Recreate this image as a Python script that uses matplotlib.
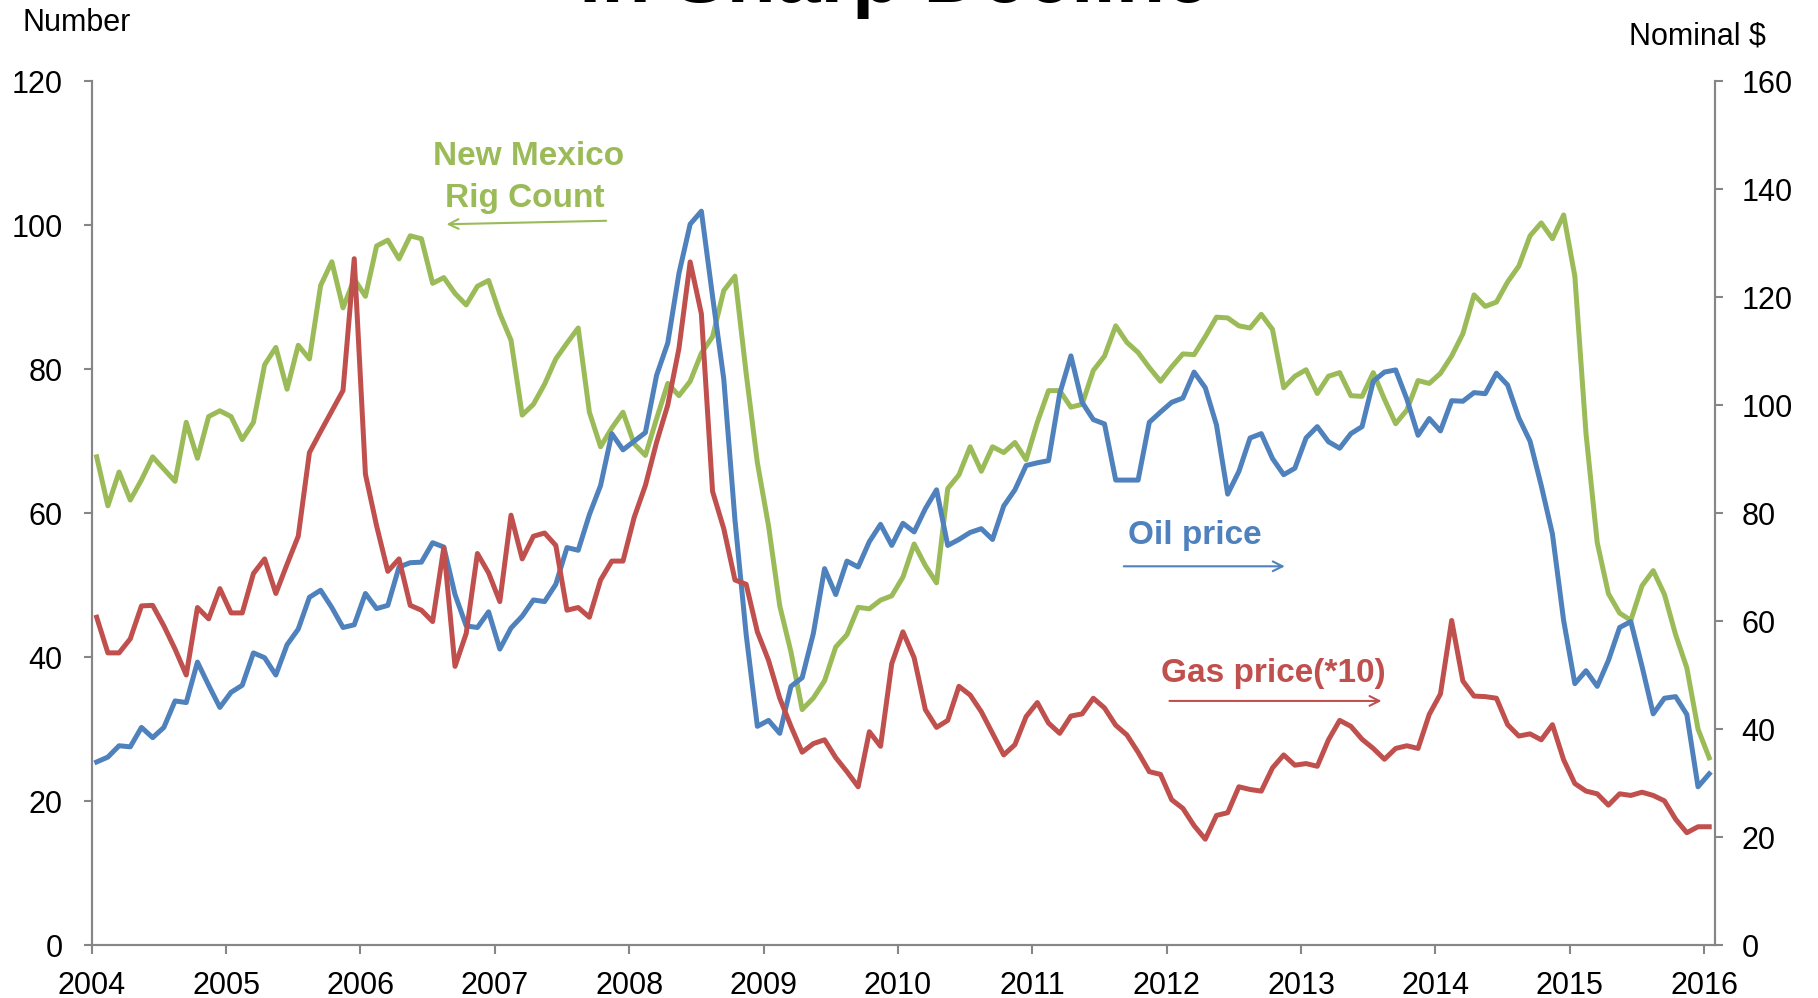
import numpy as np
import matplotlib
matplotlib.use("Agg")
import matplotlib.pyplot as plt

plt.rcParams['font.family'] = ['Liberation Sans', 'DejaVu Sans']

GREEN = '#9BBB59'
BLUE = '#4F81BD'
RED = '#C0504D'
GREY = '#868686'

# monthly, Jan 2004 .. Jan 2016
rig_count = [67.8, 61.0, 65.7, 61.8, 64.6, 67.8, 66.1, 64.4, 72.6, 67.6, 73.4, 74.2,
             73.4, 70.2, 72.6, 80.6, 83.0, 77.2, 83.3, 81.4, 91.6, 94.9, 88.5, 92.5,
             90.1, 97.1, 97.9, 95.3, 98.5, 98.1, 91.9, 92.7, 90.5, 88.9, 91.5, 92.3,
             87.7, 84.0, 73.6, 75.1, 77.9, 81.4, 83.6, 85.7, 74.0, 69.2, 71.8, 74.0,
             69.6, 68.0, 73.1, 78.0, 76.3, 78.3, 82.2, 84.5, 90.9, 92.9, 79.4, 67.0,
             58.2, 47.1, 40.7, 32.7, 34.3, 36.7, 41.4, 43.1, 46.9, 46.7, 47.9, 48.5,
             51.1, 55.7, 52.7, 50.3, 63.4, 65.3, 69.2, 65.8, 69.2, 68.4, 69.8, 67.4,
             72.6, 77.0, 77.0, 74.7, 75.1, 79.8, 81.8, 86.0, 83.7, 82.3, 80.2, 78.3,
             80.3, 82.1, 82.0, 84.5, 87.2, 87.1, 86.0, 85.7, 87.6, 85.5, 77.4, 79.0,
             79.9, 76.6, 79.0, 79.5, 76.3, 76.2, 79.5, 75.8, 72.4, 74.3, 78.4, 78.0,
             79.4, 81.8, 84.9, 90.3, 88.7, 89.3, 92.1, 94.3, 98.5, 100.3, 98.1, 101.4,
             92.9, 71.0, 55.9, 48.8, 46.1, 45.1, 49.9, 52.0, 48.7, 43.1, 38.5, 30.0,
             26.0]

oil_price = [33.9, 34.8, 36.9, 36.7, 40.3, 38.4, 40.3, 45.2, 44.9, 52.4, 48.1, 44.0,
             46.8, 48.1, 54.1, 53.2, 50.0, 55.6, 58.5, 64.4, 65.7, 62.5, 58.8, 59.3,
             65.1, 62.3, 62.9, 70.0, 70.8, 70.9, 74.5, 73.7, 64.9, 59.1, 58.8, 61.7,
             54.8, 58.7, 60.9, 63.9, 63.6, 66.8, 73.6, 73.1, 79.7, 85.1, 94.7, 91.7,
             93.3, 94.9, 105.5, 111.5, 124.4, 133.5, 135.9, 120.1, 104.8, 78.7, 57.5, 40.5,
             41.6, 39.2, 47.9, 49.5, 57.7, 69.7, 64.9, 71.1, 70.0, 74.7, 77.9, 74.0,
             78.1, 76.5, 80.8, 84.3, 74.0, 75.1, 76.4, 77.1, 75.1, 81.3, 84.3, 88.8,
             89.3, 89.7, 102.1, 109.1, 100.5, 97.3, 96.5, 86.1, 86.1, 86.1, 96.8, 98.7,
             100.5, 101.3, 106.1, 103.2, 96.3, 83.5, 87.7, 93.9, 94.7, 90.1, 87.1, 88.3,
             93.9, 96.0, 93.2, 92.0, 94.7, 96.0, 104.4, 106.1, 106.5, 101.1, 94.4, 97.5,
             95.2, 100.8, 100.7, 102.3, 102.1, 105.9, 103.7, 97.6, 93.3, 85.1, 76.1, 60.1,
             48.4, 50.8, 47.9, 52.7, 58.8, 59.9, 51.6, 42.8, 45.7, 46.0, 42.7, 29.3,
             31.7]

gas_price_x10 = [60.7, 54.1, 54.1, 56.7, 62.8, 62.9, 59.1, 54.8, 50.0, 62.5, 60.4, 66.0,
                 61.5, 61.5, 68.8, 71.5, 65.1, 70.5, 75.7, 91.2, 95.1, 98.9, 102.7, 127.1,
                 87.2, 77.6, 69.2, 71.5, 62.9, 62.0, 59.9, 73.6, 51.6, 57.7, 72.5, 68.9,
                 63.6, 79.6, 71.5, 75.7, 76.3, 74.0, 62.0, 62.5, 60.7, 67.6, 71.1, 71.1,
                 79.2, 85.1, 93.1, 100.0, 110.5, 126.5, 116.9, 84.0, 77.1, 67.6, 66.8, 58.0,
                 52.7, 45.7, 40.5, 35.7, 37.3, 38.0, 34.7, 32.1, 29.3, 39.5, 36.8, 52.1,
                 58.0, 53.2, 43.6, 40.3, 41.6, 47.9, 46.3, 43.2, 39.2, 35.2, 37.1, 42.3,
                 44.9, 41.1, 39.2, 42.4, 42.8, 45.7, 43.9, 40.7, 38.9, 35.7, 32.1, 31.6,
                 26.9, 25.3, 22.1, 19.6, 24.0, 24.5, 29.3, 28.8, 28.5, 32.8, 35.2, 33.3,
                 33.6, 33.1, 38.0, 41.6, 40.5, 38.1, 36.4, 34.4, 36.4, 36.9, 36.4, 42.7,
                 46.5, 60.1, 48.9, 46.1, 46.0, 45.7, 40.8, 38.7, 39.1, 38.0, 40.8, 34.3,
                 29.9, 28.5, 28.0, 25.9, 28.0, 27.7, 28.3, 27.7, 26.7, 23.3, 20.8, 21.9,
                 21.9]

years = list(range(2004, 2017))

months = np.arange(len(rig_count))
x = 2004 + (months + 0.45) / 12

fig = plt.figure(figsize=(18.18, 9.98), dpi=100)
ax = fig.add_axes([0.0504, 0.0531, 0.8929, 0.8657])
ax2 = ax.twinx()

ax.plot(x, rig_count, color=GREEN, lw=3.6)
ax2.plot(x, oil_price, color=BLUE, lw=3.6)
ax2.plot(x, gas_price_x10, color=RED, lw=3.6)

ax.set_xlim(2004, 2016.08)
ax.set_ylim(0, 120)
ax2.set_ylim(0, 160)
ax.set_xticks(years)
ax.set_yticks(range(0, 121, 20))
ax2.set_yticks(range(0, 161, 20))

for a in (ax, ax2):
    a.spines['top'].set_visible(False)
    for s in ('left', 'right', 'bottom'):
        a.spines[s].set_color(GREY)
        a.spines[s].set_linewidth(1.5)
ax.tick_params(axis='y', direction='out', length=6, width=1.5, color=GREY, labelsize=22, pad=15)
ax.tick_params(axis='x', direction='out', length=6.5, width=1.5, color=GREY, labelsize=22, pad=12)
ax2.tick_params(axis='y', direction='out', length=6, width=1.5, color=GREY, labelsize=22, pad=13)

# series labels with arrows
ax.text(2007.25, 109.5, 'New Mexico', color=GREEN, fontsize=24, fontweight='bold', ha='center', va='center')
ax.text(2007.22, 103.75, 'Rig Count', color=GREEN, fontsize=24, fontweight='bold', ha='center', va='center')
ax.annotate('', xy=(2006.62, 100.1), xytext=(2007.85, 100.6),
            arrowprops=dict(arrowstyle='->,head_length=0.7,head_width=0.35', color=GREEN, lw=1.5))

ax.text(2012.21, 56.9, 'Oil price', color=BLUE, fontsize=24, fontweight='bold', ha='center', va='center')
ax.annotate('', xy=(2012.9, 52.6), xytext=(2011.66, 52.6),
            arrowprops=dict(arrowstyle='->,head_length=0.7,head_width=0.35', color=BLUE, lw=1.5))

ax.text(2012.79, 37.7, 'Gas price(*10)', color=RED, fontsize=24, fontweight='bold', ha='center', va='center')
ax.annotate('', xy=(2013.62, 33.9), xytext=(2012.0, 33.9),
            arrowprops=dict(arrowstyle='->,head_length=0.7,head_width=0.35', color=RED, lw=1.5))

fig.text(0.0125, 0.977, 'Number', fontsize=22, ha='left', va='center')
fig.text(0.9714, 0.963, 'Nominal $', fontsize=22, ha='right', va='center')

# title sits mostly above the canvas, only its bottom shows
fig.text(0.492, 1 - 2 / 998, 'in Sharp Decline', fontsize=58, fontweight='bold',
         ha='center', va='baseline')

fig.savefig('out.png', dpi=100)
